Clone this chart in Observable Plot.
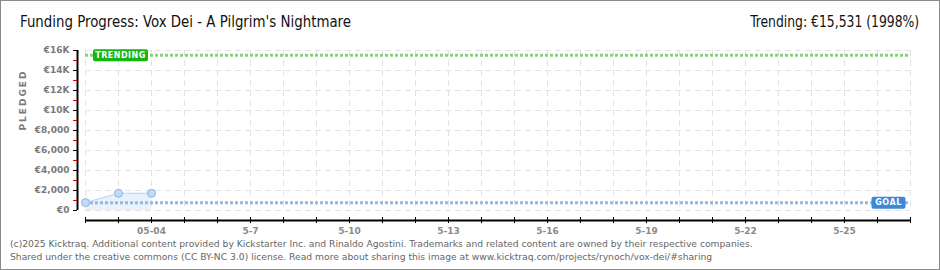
<!DOCTYPE html>
<html>
<head>
<meta charset="utf-8">
<script src="https://cdn.jsdelivr.net/npm/d3@7"></script>
<script src="https://cdn.jsdelivr.net/npm/@observablehq/plot@0.6"></script>
<style>
  html, body { margin: 0; padding: 0; background: #fff; }
  #frame { position: relative; width: 938px; height: 268px; border: 1px solid #8a8a8a; background: #fff; overflow: hidden; }
  .head { position: absolute; top: 12px; font-family: "DejaVu Sans", sans-serif; font-stretch: condensed; font-size: 15px; color: #111; white-space: nowrap; }
  #title { left: 19px; transform-origin: left top; }
  #trend { right: 20px; transform-origin: right top; }
  #chart { position: absolute; left: 0; top: 39px; }
  #footer { position: absolute; left: 9px; top: 236px; font-family: "DejaVu Sans", Verdana, sans-serif; font-size: 9.2px; line-height: 13px; color: #666; white-space: nowrap; }
</style>
</head>
<body>
<div id="frame">
  <div id="title" class="head">Funding Progress: Vox Dei - A Pilgrim's Nightmare</div>
  <div id="trend" class="head">Trending: €15,531 (1998%)</div>
  <div id="chart"></div>
  <div id="footer">(c)2025 Kicktraq. Additional content provided by Kickstarter Inc. and Rinaldo Agostini. Trademarks and related content are owned by their respective companies.<br>Shared under the creative commons (CC BY-NC 3.0) license. Read more about sharing this image at www.kicktraq.com/projects/rynoch/vox-dei/#sharing</div>
</div>
<script>
// ---- data ----
const dates = ["2025-05-02", "2025-05-03", "2025-05-04"];
const pledged = [790, 1720, 1720];
const goal = 777;
const trending = 15531;
const startDay = "2025-05-02";
const endDay = "2025-05-27";
const yTicks = [0, 2000, 4000, 6000, 8000, 10000, 12000, 14000, 16000];
const yTickLabels = ["€0", "€2,000", "€4,000", "€6,000", "€8,000", "€10K", "€12K", "€14K", "€16K"];
const yMinorTicks = [1000, 3000, 5000, 7000, 9000, 11000, 13000, 15000];
const xLabelDates = ["2025-05-04", "2025-05-07", "2025-05-10", "2025-05-13", "2025-05-16", "2025-05-19", "2025-05-22", "2025-05-25"];
const xLabels = ["05-04", "5-7", "5-10", "5-13", "5-16", "5-19", "5-22", "5-25"];

const parse = d3.utcParse("%Y-%m-%d");
const data = dates.map((d, i) => ({date: parse(d), value: pledged[i]}));
const x0 = parse(startDay), x1 = parse(endDay);
const days = d3.utcDay.range(x0, d3.utcDay.offset(x1, 1));
const labelDates = xLabelDates.map(parse);

const gridStyle = {stroke: "#e2e2e2", strokeWidth: 1, strokeDasharray: "6,4"};

const chart = Plot.plot({
  width: 938,
  height: 196,
  marginLeft: 84,
  marginRight: 29,
  marginTop: 10,
  marginBottom: 26,
  style: {fontFamily: "DejaVu Sans, sans-serif", fontSize: "9px", background: "transparent", overflow: "visible"},
  x: {type: "utc", domain: [x0, x1]},
  y: {domain: [0, 16000]},
  marks: [
    Plot.ruleY(yTicks, gridStyle),
    Plot.ruleX(days, gridStyle),
    Plot.areaY(data, {x: "date", y: "value", fill: "#e9f2fc"}),
    Plot.ruleY([goal], {stroke: "#93b9e8", strokeWidth: 3, strokeDasharray: "3,2"}),
    Plot.ruleY([trending], {stroke: "#86d277", strokeWidth: 3, strokeDasharray: "3,2"}),
    Plot.line(data, {x: "date", y: "value", stroke: "#b9d4f2", strokeWidth: 1}),
    Plot.dot(data, {x: "date", y: "value", r: 4, fill: "#c2daf6", stroke: "#8db2df", strokeWidth: 1}),
    // y axis
    Plot.ruleX([x0], {stroke: "#000", strokeWidth: 2, dx: -8}),
    Plot.axisY({ticks: yTicks, tickFormat: d => yTickLabels[yTicks.indexOf(d)], tickSize: 4, tickPadding: 4, dx: -8, stroke: "#000", fill: "#7a7a7a", label: null, fontWeight: "bold"}),
    Plot.axisY({ticks: yMinorTicks, tickFormat: () => "", tickSize: 4, dx: -8, stroke: "#e00000", label: null}),
    Plot.text(["PLEDGED"], {frameAnchor: "left", rotate: -90, dx: -62, fill: "#7a7a7a", fontWeight: "bold", fontSize: 9}),
    // x axis
    Plot.ruleY([0], {stroke: "#000", strokeWidth: 2, dy: 10}),
    Plot.axisX({ticks: days, tickFormat: () => "", tickSize: 6, dy: 7, stroke: "#000", label: null}),
    Plot.axisX({ticks: labelDates, tickFormat: d => xLabels[labelDates.findIndex(t => +t === +d)], tickSize: 0, tickPadding: 17, fill: "#8a8a8a", label: null, fontWeight: "bold"}),
    // labels
    Plot.text([trending], {x: () => x0, y: d => d, text: () => "TRENDING", dx: 35, fill: "#fff", fontWeight: "bold", fontSize: 8}),
    Plot.text([goal], {x: () => x1, y: d => d, text: () => "GOAL", dx: -22, fill: "#fff", fontWeight: "bold", fontSize: 8})
  ]
});
document.getElementById("chart").appendChild(chart);

// fit header texts to the reference widths
function fit(id, w) {
  const el = document.getElementById(id);
  const cur = el.getBoundingClientRect().width;
  el.style.transform = `scaleX(${w / cur})`;
}
fit("title", 331);
fit("trend", 169);

// letter spacing for small caps labels and badge boxes
d3.select(chart).selectAll("text").each(function() {
  const t = this.textContent;
  if (t === "PLEDGED") this.style.letterSpacing = "2px";
  if (t === "TRENDING" || t === "GOAL") {
    this.style.letterSpacing = "0.5px";
    const bb = this.getBBox();
    const w = t === "TRENDING" ? 55 : 34;
    const cx = bb.x + bb.width / 2;
    const cy = bb.y + bb.height / 2;
    const ctm = this.getAttribute("transform");
    const rect = document.createElementNS("http://www.w3.org/2000/svg", "rect");
    rect.setAttribute("x", cx - w / 2);
    rect.setAttribute("y", cy - 6);
    rect.setAttribute("width", w);
    rect.setAttribute("height", 12);
    rect.setAttribute("rx", 2);
    rect.setAttribute("fill", t === "TRENDING" ? "#15b515" : "#3d88d8");
    if (ctm) rect.setAttribute("transform", ctm);
    this.parentNode.insertBefore(rect, this);
  }
});
</script>
</body>
</html>
